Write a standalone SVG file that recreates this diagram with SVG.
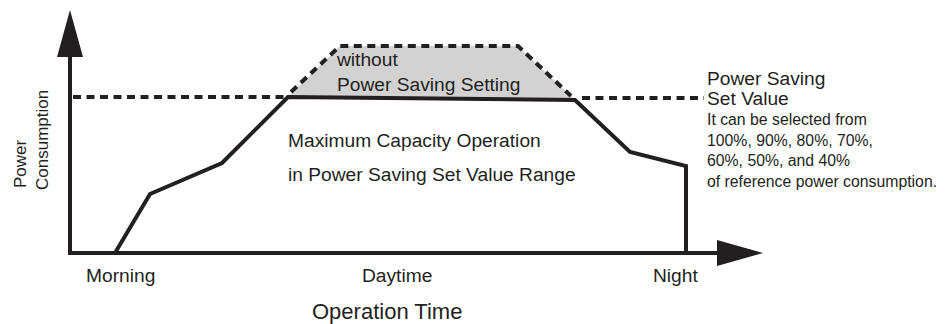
<svg xmlns="http://www.w3.org/2000/svg" width="945" height="324" viewBox="0 0 945 324">
<style>
text{font-family:"Liberation Sans",Arial,sans-serif;fill:#231f20}
.l{font-size:19.2px}
.s{font-size:15.8px}
.ax{stroke:#231f20;stroke-width:4;fill:none}
.dash{stroke:#231f20;stroke-width:4;fill:none;stroke-dasharray:8 5.5}
.curve{stroke:#231f20;stroke-width:4;fill:none;stroke-linejoin:miter}
</style>
<rect width="945" height="324" fill="#fff"/>
<g id="shading">
<polygon points="288,97 340,46 518,46 575,100" fill="#d2d2d2"/>
</g>
<g id="connectors">
<line class="ax" x1="70" y1="55" x2="70" y2="255"/>
<polygon points="70,10 83,57 57,57" fill="#231f20"/>
<line class="ax" x1="68" y1="253" x2="719" y2="253"/>
<polygon points="763,253 717,240 717,266" fill="#231f20"/>
<line class="dash" x1="73" y1="97" x2="288" y2="97"/>
<line class="dash" x1="582" y1="98" x2="704" y2="98"/>
<polyline class="dash" points="291,92 340,46 518,46 571,96"/>
<polyline class="curve" points="115,253 150,194 222,163 288,97 575,100 630,152 686,166 686,253"/>
</g>
<g id="without">
<text class="l" x="337" y="66">without</text>
<text class="l" x="337" y="91">Power Saving Setting</text>
</g>
<g id="max">
<text class="l" x="288" y="147">Maximum Capacity Operation</text>
<text class="l" x="288" y="181">in Power Saving Set Value Range</text>
</g>
<g id="setvalue">
<text class="l" x="707" y="85">Power Saving</text>
<text class="l" x="707" y="105">Set Value</text>
<text class="s" x="707" y="125">It can be selected from</text>
<text class="s" x="707" y="145.5">100%, 90%, 80%, 70%,</text>
<text class="s" x="707" y="166">60%, 50%, and 40%</text>
<text class="s" x="707" y="186.5">of reference power consumption.</text>
</g>
<g id="yaxis-label">
<text style="font-size:17px" transform="translate(26,188) rotate(-90)">Power</text>
<text style="font-size:17px" transform="translate(48,190) rotate(-90)">Consumption</text>
</g>
<g id="xaxis-labels">
<text class="l" x="86" y="282">Morning</text>
<text class="l" x="362" y="282">Daytime</text>
<text class="l" x="653" y="282">Night</text>
<text style="font-size:22px" x="312" y="319">Operation Time</text>
</g>
</svg>
